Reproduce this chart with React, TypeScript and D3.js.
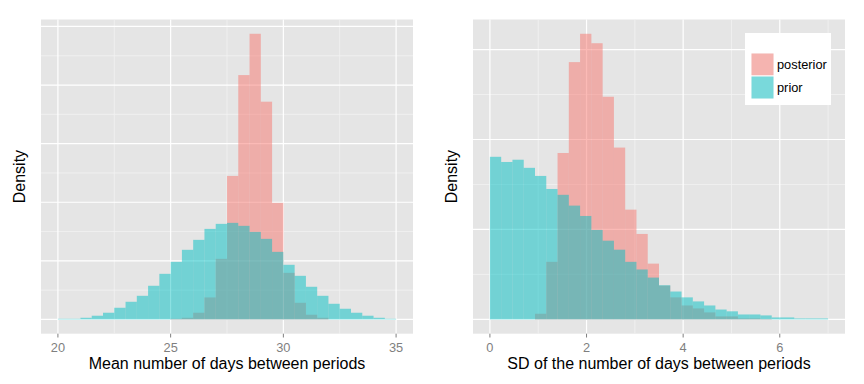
import * as d3 from "d3";

// left panel: mean cycle length, bins of 0.5 days starting at 20
const meanBinStart = 20;
const meanBinWidth = 0.5;
const meanPrior = [
  0.0011, 0.0011, 0.0028, 0.0063, 0.0114, 0.0199, 0.0301, 0.0403, 0.0574, 0.0778,
  0.0983, 0.1188, 0.1358, 0.1545, 0.1631, 0.1648, 0.1597, 0.1494, 0.1375, 0.1153,
  0.0932, 0.0744, 0.0557, 0.0403, 0.0267, 0.0182, 0.0114, 0.0063, 0.0028, 0.0011,
];
const meanPosterior = [
  0, 0, 0, 0, 0, 0, 0, 0, 0, 0,
  0.0011, 0.0028, 0.0114, 0.0375, 0.1034, 0.2449, 0.417, 0.4875, 0.3716, 0.1989,
  0.0795, 0.0284, 0.008, 0.0028, 0, 0, 0, 0, 0, 0,
];
const meanTicks = [20, 25, 30, 35];

// right panel: SD of cycle length, 30 bins over 0..7
const sdBinStart = 0;
const sdBinWidth = 7 / 30;
const sdPrior = [
  0.3615, 0.35, 0.355, 0.337, 0.319, 0.29, 0.277, 0.253, 0.23, 0.199,
  0.175, 0.155, 0.128, 0.111, 0.093, 0.076, 0.062, 0.049, 0.04, 0.031,
  0.022, 0.018, 0.011, 0.011, 0.0089, 0.0044, 0.0044, 0.0022, 0.0022, 0.0022,
];
const sdPosterior = [
  0, 0, 0, 0, 0.0126, 0.128, 0.37, 0.572, 0.635, 0.614,
  0.495, 0.382, 0.244, 0.19, 0.124, 0.075, 0.049, 0.031, 0.0244, 0.0156,
  0.0067, 0.0067, 0.0022, 0.0022, 0.001, 0, 0, 0, 0, 0,
];
const sdTicks = [0, 2, 4, 6];

const groups = ["posterior", "prior"];
const colors = ["#F8766D", "#00BFC4"];

const FONT = "'Liberation Sans', Arial, Helvetica, sans-serif";
const TOP = 19.5;
const BOTTOM = 333.7;

type PanelProps = {
  left: number;
  right: number;
  binStart: number;
  binWidth: number;
  prior: number[];
  posterior: number[];
  ticks: number[];
  yStep: number;
  xLabel: string;
};

const Panel = ({ left, right, binStart, binWidth, prior, posterior, ticks, yStep, xLabel }: PanelProps) => {
  const n = prior.length;
  const xMin = binStart;
  const xMax = binStart + n * binWidth;
  const xPad = (xMax - xMin) * 0.05;
  const x = d3.scaleLinear().domain([xMin - xPad, xMax + xPad]).range([left, right]);

  const yMax = d3.max([...prior, ...posterior]) as number;
  const y = d3.scaleLinear().domain([-yMax * 0.05, yMax * 1.05]).range([BOTTOM, TOP]);

  const yMajor = d3.range(0, yMax * 1.05, yStep);
  const yMinor = yMajor.map((v) => v + yStep / 2).filter((v) => v < yMax * 1.05);
  const xStep = ticks[1] - ticks[0];
  const xMinor = ticks.map((v) => v + xStep / 2).filter((v) => x(v) < right);
  const xMinorAll = [ticks[0] - xStep / 2, ...xMinor].filter((v) => x(v) > left);

  const series = [posterior, prior];

  return (
    <g>
      <rect x={left} y={TOP} width={right - left} height={BOTTOM - TOP} fill="#E5E5E5" />
      {yMinor.map((v) => (
        <line key={"ym" + v} x1={left} x2={right} y1={y(v)} y2={y(v)} stroke="#F2F2F2" strokeWidth={0.8} />
      ))}
      {xMinorAll.map((v) => (
        <line key={"xm" + v} x1={x(v)} x2={x(v)} y1={TOP} y2={BOTTOM} stroke="#F2F2F2" strokeWidth={0.8} />
      ))}
      {yMajor.map((v) => (
        <line key={"y" + v} x1={left} x2={right} y1={y(v)} y2={y(v)} stroke="#FFFFFF" strokeWidth={1.2} />
      ))}
      {ticks.map((v) => (
        <line key={"x" + v} x1={x(v)} x2={x(v)} y1={TOP} y2={BOTTOM} stroke="#FFFFFF" strokeWidth={1.2} />
      ))}
      {series.map((vals, s) => (
        <g key={groups[s]} fill={colors[s]} fillOpacity={0.5}>
          {vals.map((v, i) =>
            v > 0 ? (
              <rect
                key={i}
                x={x(binStart + i * binWidth)}
                width={x(binStart + (i + 1) * binWidth) - x(binStart + i * binWidth)}
                y={y(v)}
                height={y(0) - y(v)}
              />
            ) : null
          )}
        </g>
      ))}
      {ticks.map((v) => (
        <g key={"t" + v}>
          <line x1={x(v)} x2={x(v)} y1={BOTTOM} y2={BOTTOM + 3.8} stroke="#7F7F7F" strokeWidth={1} />
          <text x={x(v)} y={352} textAnchor="middle" fontSize={12.8} fill="#7F7F7F" fontFamily={FONT}>
            {v}
          </text>
        </g>
      ))}
      <text x={(left + right) / 2} y={369.3} textAnchor="middle" fontSize={16} fill="#000" fontFamily={FONT}>
        {xLabel}
      </text>
      <text
        transform={`translate(${left - 16.5},${(TOP + BOTTOM) / 2}) rotate(-90)`}
        textAnchor="middle"
        fontSize={16}
        fill="#000"
        fontFamily={FONT}
      >
        Density
      </text>
    </g>
  );
};

export default function App() {
  return (
    <svg width={864} height={384} style={{ position: "absolute", left: 0, top: 0 }}>
      <rect width={864} height={384} fill="#FFFFFF" />
      <Panel
        left={41}
        right={413}
        binStart={meanBinStart}
        binWidth={meanBinWidth}
        prior={meanPrior}
        posterior={meanPosterior}
        ticks={meanTicks}
        yStep={0.1}
        xLabel="Mean number of days between periods"
      />
      <Panel
        left={473}
        right={845}
        binStart={sdBinStart}
        binWidth={sdBinWidth}
        prior={sdPrior}
        posterior={sdPosterior}
        ticks={sdTicks}
        yStep={0.2}
        xLabel="SD of the number of days between periods"
      />
      <g>
        <rect x={745} y={33} width={86} height={72} fill="#FFFFFF" />
        {groups.map((g, i) => (
          <g key={g}>
            <rect x={751} y={53 + i * 23} width={23} height={23} fill="#F2F2F2" stroke="#FFFFFF" strokeWidth={1} />
            <rect x={751.5} y={53.5 + i * 23} width={22} height={22} fill={colors[i]} fillOpacity={0.5} />
            <text x={777} y={69.3 + i * 23} fontSize={12.8} fill="#000" fontFamily={FONT}>
              {g}
            </text>
          </g>
        ))}
      </g>
    </svg>
  );
}
